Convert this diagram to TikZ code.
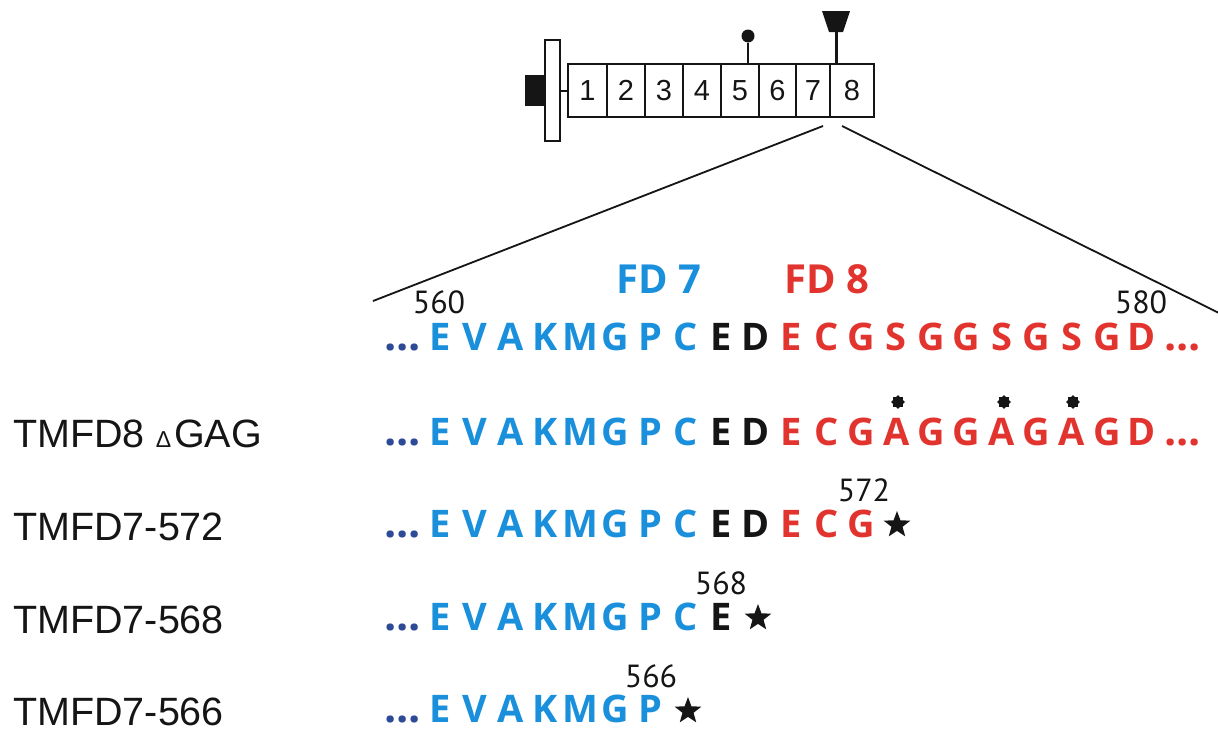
\documentclass[tikz,border=0pt]{standalone}
\usepackage{fontspec}
\setmainfont{Liberation Sans}
\newfontfamily\seqfont{Open Sans}
\newfontfamily\numfont{PT Sans}
\usetikzlibrary{shapes.geometric}
\definecolor{fdblue}{HTML}{1A8FDB}
\definecolor{fdred}{HTML}{E2342E}
\definecolor{navy}{HTML}{2D4A97}
\definecolor{ink}{HTML}{151515}
\tikzset{
 seq/.style={inner sep=0pt, anchor=base, font=\seqfont\bfseries\fontsize{38}{38}\selectfont},
 dots/.style={inner sep=0pt, anchor=base west, font=\seqfont\bfseries\fontsize{43}{43}\selectfont},
 num/.style={inner sep=0pt, anchor=base, font=\numfont\fontsize{32}{32}\selectfont, text=ink},
 fdlabel/.style={inner sep=0pt, anchor=base west, font=\seqfont\bfseries\fontsize{40}{40}\selectfont},
 lbl/.style={inner sep=0pt, anchor=base west, font=\fontsize{39.5}{39.5}\selectfont, text=ink},
 stopmark/.style={star, star points=5, star point ratio=2.4, fill=ink, draw=none, inner sep=0pt, minimum size=28pt},
 glymark/.style={star, star points=8, star point ratio=1.35, fill=ink, draw=none, inner sep=0pt, minimum size=14pt},
 dom/.style={draw=ink, line width=1.4pt, minimum height=53pt, inner sep=0pt, font=\fontsize{29}{29}\selectfont, text=ink},
 zoomline/.style={draw=ink, line width=1.8pt},
}
\begin{document}
\begin{tikzpicture}[x=1pt,y=-1pt]
\useasboundingbox (0,0) rectangle (1218,731);

% ---- top receptor diagram
\node[fill=ink, minimum width=20pt, minimum height=31pt, inner sep=0pt] (cyto) at (535,90.5) {};
\node[draw=ink, fill=white, line width=1.4pt, minimum width=15pt, minimum height=101pt, inner sep=0pt] (tmbar) at (552.5,90.5) {};
\node[dom, minimum width=39pt] (d1) at (587.5,90.5) {1};
\node[dom, minimum width=38pt] (d2) at (626,90.5) {2};
\node[dom, minimum width=38pt] (d3) at (664,90.5) {3};
\node[dom, minimum width=38pt] (d4) at (702,90.5) {4};
\node[dom, minimum width=38pt] (d5) at (740,90.5) {5};
\node[dom, minimum width=37pt] (d6) at (777.5,90.5) {6};
\node[dom, minimum width=34pt] (d7) at (813,90.5) {7};
\node[dom, minimum width=44pt] (d8) at (852,90.5) {8};
\draw[ink, line width=2pt] (tmbar.east) -- (d1.west);

\node[circle, fill=ink, minimum size=13pt, inner sep=0pt] (ball) at (748,36) {};
\draw[ink, line width=1.4pt] (ball.south) -- (ball.south |- d5.north);

\coordinate (glyc) at (836,32);
\fill[ink] (822,11) -- (850,11) -- (843,32) -- (829,32) -- cycle;
\draw[ink, line width=3pt] (glyc) -- (glyc |- d8.north);

% ---- zoom lines
\coordinate (zl) at (823,126);
\coordinate (zr) at (842,126);
\coordinate (zle) at (373,301);
\coordinate (zre) at (1219,313);
\draw[zoomline] (zl) -- (zle);
\draw[zoomline] (zr) -- (zre);

% ---- FD labels and numbers
\node[fdlabel, text=fdblue] (fd7) at (616,293) {FD 7};
\node[fdlabel, text=fdred] (fd8) at (784,293) {FD 8};
\node[num] (n560) at (439,313) {560};
\node[num] (n580) at (1141,313) {580};

% ---- row 1 (wild type)
\node[dots, text=navy] (adots) at (384,350) {...};
\foreach \l/\c [count=\k from 0] in {E/fdblue,V/fdblue,A/fdblue,K/fdblue,M/fdblue,G/fdblue,P/fdblue,C/fdblue,E/ink,D/ink,E/fdred,C/fdred,G/fdred,S/fdred,G/fdred,G/fdred,S/fdred,G/fdred,S/fdred,G/fdred,D/fdred}
  \node[seq, text=\c] (a\k) at ({440+35.1*\k},350) {\l};
\node[dots, text=fdred] (aend) at (1164,350) {...};

% ---- row 2 TMFD8 dGAG
\node[lbl] (lab1) at (13,447) {TMFD8 {\fontsize{23}{23}\selectfont Δ}\hspace{3pt}GAG};
\node[dots, text=navy] (bdots) at (384,445) {...};
\foreach \l/\c [count=\k from 0] in {E/fdblue,V/fdblue,A/fdblue,K/fdblue,M/fdblue,G/fdblue,P/fdblue,C/fdblue,E/ink,D/ink,E/fdred,C/fdred,G/fdred,A/fdred,G/fdred,G/fdred,A/fdred,G/fdred,A/fdred,G/fdred,D/fdred}
  \node[seq, text=\c] (b\k) at ({440+35.1*\k},445) {\l};
\node[dots, text=fdred] (bend) at (1164,445) {...};
\node[glymark] (g1) at (898,402) {};
\node[glymark] (g2) at (1004,402) {};
\node[glymark] (g3) at (1073,402) {};

% ---- row 3 TMFD7-572
\node[lbl] (lab2) at (13,540) {TMFD7-572};
\node[dots, text=navy] (cdots) at (384,537) {...};
\foreach \l/\c [count=\k from 0] in {E/fdblue,V/fdblue,A/fdblue,K/fdblue,M/fdblue,G/fdblue,P/fdblue,C/fdblue,E/ink,D/ink,E/fdred,C/fdred,G/fdred}
  \node[seq, text=\c] (c\k) at ({440+35.1*\k},537) {\l};
\node[stopmark] (cstop) at (897,525) {};
\node[num] (n572) at (864,501) {572};

% ---- row 4 TMFD7-568
\node[lbl] (lab3) at (13,633) {TMFD7-568};
\node[dots, text=navy] (ddots) at (384,630) {...};
\foreach \l/\c [count=\k from 0] in {E/fdblue,V/fdblue,A/fdblue,K/fdblue,M/fdblue,G/fdblue,P/fdblue,C/fdblue,E/ink}
  \node[seq, text=\c] (r4c\k) at ({440+35.1*\k},630) {\l};
\node[stopmark] (dstop) at (758,618) {};
\node[num] (n568) at (721,594) {568};

% ---- row 5 TMFD7-566
\node[lbl] (lab4) at (13,725) {TMFD7-566};
\node[dots, text=navy] (edots) at (384,722) {...};
\foreach \l/\c [count=\k from 0] in {E/fdblue,V/fdblue,A/fdblue,K/fdblue,M/fdblue,G/fdblue,P/fdblue}
  \node[seq, text=\c] (e\k) at ({440+35.1*\k},722) {\l};
\node[stopmark] (estop) at (688,711) {};
\node[num] (n566) at (651,687) {566};
\end{tikzpicture}
\end{document}
